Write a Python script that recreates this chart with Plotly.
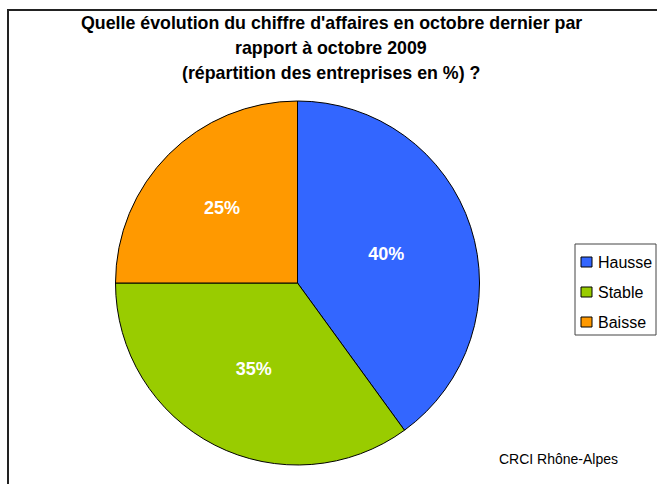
import plotly.graph_objects as go

W, H = 657, 484

labels = ["Hausse", "Stable", "Baisse"]
values = [40, 35, 25]
colors = ["#3366FF", "#99CC00", "#FF9900"]
title_lines = [
    "Quelle évolution du chiffre d'affaires en octobre dernier par",
    "rapport à octobre 2009",
    "(répartition des entreprises en %) ?",
]
source = "CRCI Rhône-Alpes"

FONT = "Liberation Sans, Arial, sans-serif"


def px(x):
    return x / W


def py(y):
    return 1 - y / H


fig = go.Figure(
    go.Pie(
        labels=labels,
        values=values,
        sort=False,
        direction="clockwise",
        rotation=0,
        marker=dict(colors=colors, line=dict(color="black", width=1)),
        texttemplate="%{percent:.0%}",
        textposition="inside",
        insidetextorientation="horizontal",
        textfont=dict(family=FONT, size=18, color="white", weight="bold"),
        domain=dict(x=[px(115.5), px(479.5)], y=[py(465), py(101)]),
        showlegend=False,
        hoverinfo="label+percent",
    )
)

shapes = [
    # outer frame
    dict(type="rect", xref="paper", yref="paper", x0=px(8), x1=1.2, y0=-0.2, y1=py(10),
         line=dict(color="#222222", width=2), fillcolor="rgba(0,0,0,0)"),
    # legend box
    dict(type="rect", xref="paper", yref="paper", x0=px(575), x1=px(656), y0=py(335), y1=py(244),
         line=dict(color="#444444", width=1), fillcolor="white"),
]
annotations = []

title_y = [23, 48, 73]
for line, yy in zip(title_lines, title_y):
    annotations.append(dict(
        text=line, x=px(331), y=py(yy), xref="paper", yref="paper",
        showarrow=False, xanchor="center", yanchor="middle",
        font=dict(family=FONT, size=17.8, color="black", weight="bold"),
    ))

leg_y = [262, 292, 322]
for lab, col, yy in zip(labels, colors, leg_y):
    shapes.append(dict(
        type="rect", xref="paper", yref="paper",
        x0=px(581), x1=px(592), y0=py(yy + 5), y1=py(yy - 5),
        line=dict(color="black", width=1), fillcolor=col,
    ))
    annotations.append(dict(
        text=lab, x=px(596), y=py(yy), xref="paper", yref="paper",
        showarrow=False, xanchor="left", yanchor="middle",
        font=dict(family=FONT, size=16, color="black"),
    ))

annotations.append(dict(
    text=source, x=px(497), y=py(459), xref="paper", yref="paper",
    showarrow=False, xanchor="left", yanchor="middle",
    font=dict(family=FONT, size=14, color="black"),
))

fig.update_layout(
    width=W, height=H,
    margin=dict(l=0, r=0, t=0, b=0),
    paper_bgcolor="white",
    plot_bgcolor="white",
    shapes=shapes,
    annotations=annotations,
    showlegend=False,
)

fig.write_html(
    "out.html",
    config={"displayModeBar": False},
    post_script="document.body.style.margin='0';document.body.style.overflow='hidden';",
)
